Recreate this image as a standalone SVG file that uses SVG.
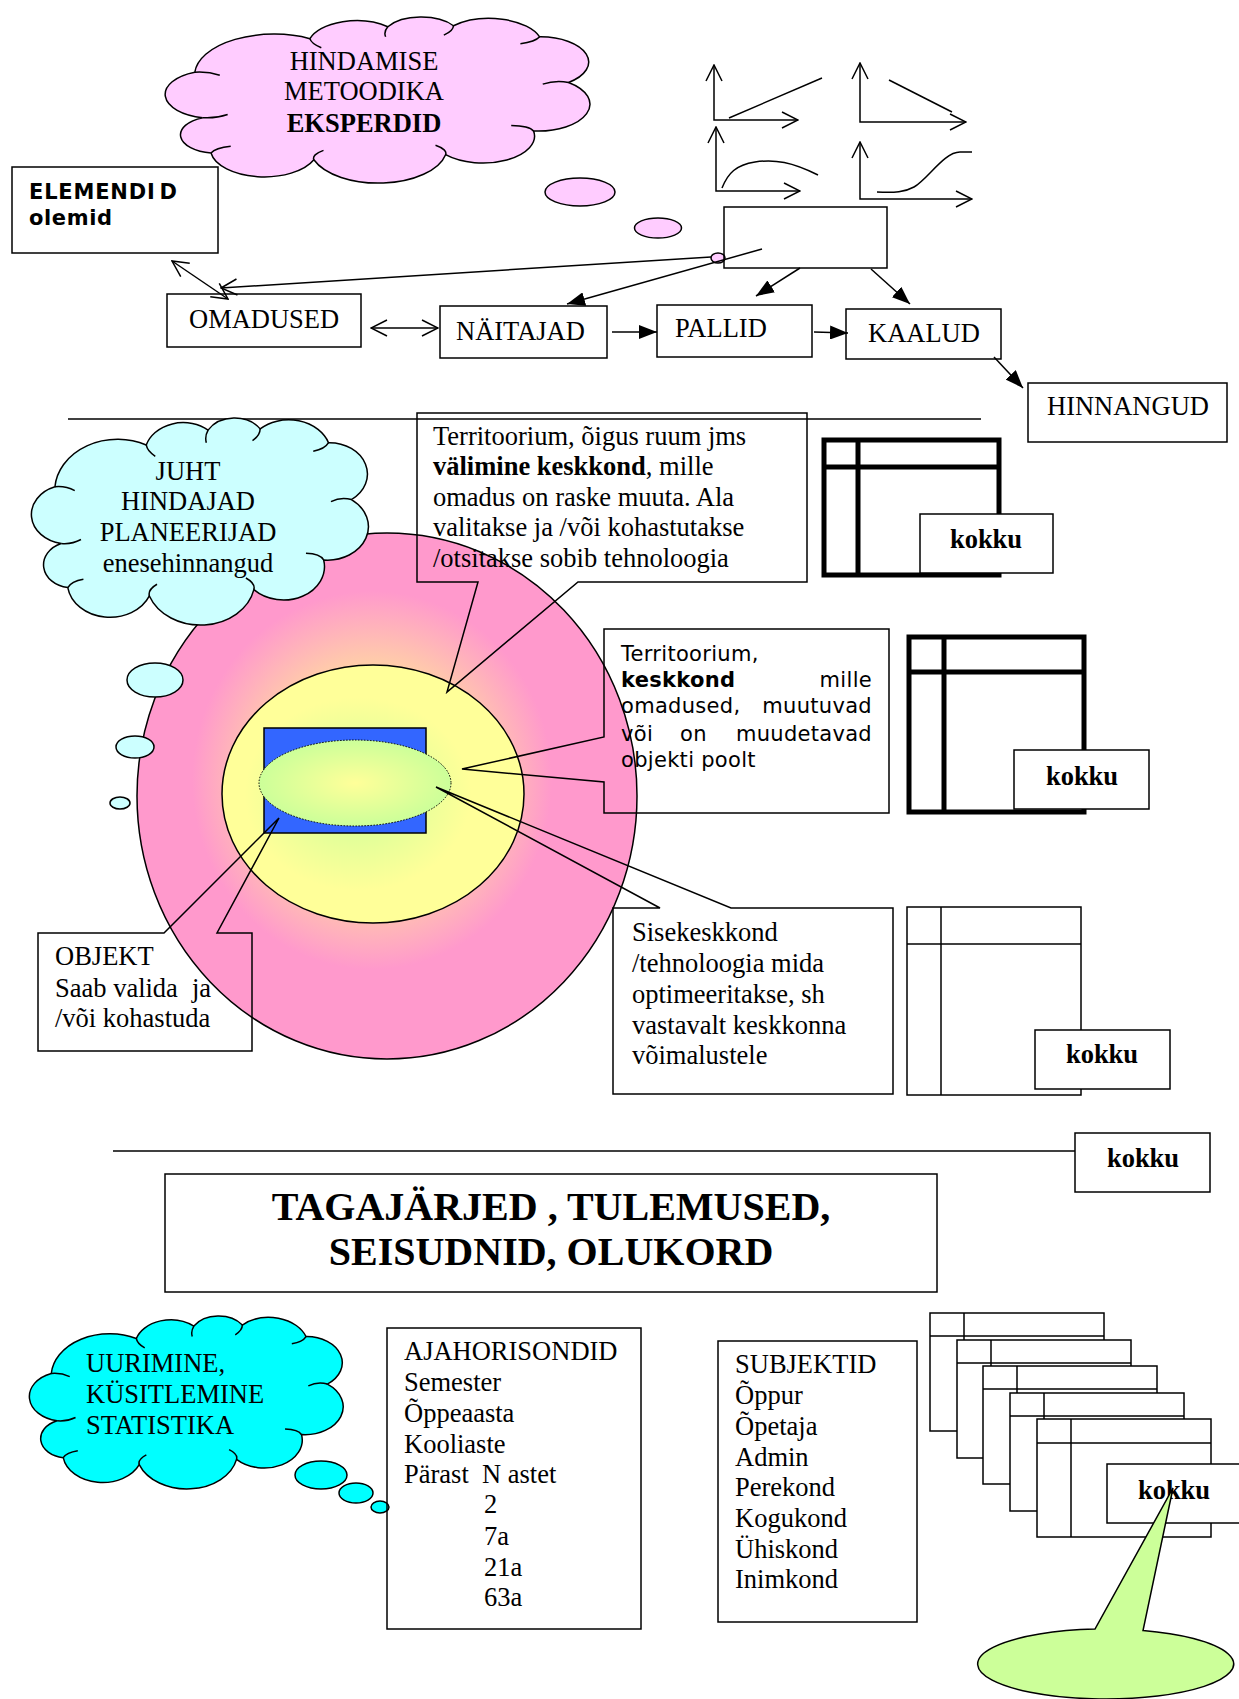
<svg xmlns="http://www.w3.org/2000/svg" width="1239" height="1699" viewBox="0 0 1239 1699">
<style>
.s{font-family:"Liberation Serif","Times New Roman",serif;font-size:26.5px;fill:#000}
.b{font-weight:bold}
.v{font-family:"DejaVu Sans",Verdana,sans-serif;font-size:21px;letter-spacing:0.3px;fill:#000}
.box{fill:none;stroke:#000;stroke-width:1.5}
.wbox{fill:#fff;stroke:#000;stroke-width:1.5}
.ln{fill:none;stroke:#000;stroke-width:1.5}
.thick{fill:none;stroke:#000;stroke-width:5}
.pk{fill:#FFCCFF;stroke:#000;stroke-width:1.5}
.cy1{fill:#CCFFFF;stroke:#000;stroke-width:1.5}
.cy2{fill:#00FFFF;stroke:#000;stroke-width:1.5}
.ci{fill:none;stroke:#000;stroke-width:1.5}
</style>
<defs>
<path id="cloud" vector-effect="non-scaling-stroke" d="M9.4,31.9 A18.1,24.6 0 0 1 35.7,11.9 A11.1,15.1 0 0 1 53.5,4.8 A9,12.2 0 0 1 68.5,4.2 A12.2,16.6 0 0 1 88.2,10.8 A11,15 0 0 1 94.8,38 A11.8,16 0 0 1 86.8,66.9 A11.8,16 0 0 1 66.7,81.1 A15.7,21.3 0 0 1 36.6,84.1 A12.3,16.7 0 0 1 13.1,80.1 A8.1,11 0 0 1 11.2,59 A10.4,14.1 0 0 1 9.4,31.9 Z"/>
<path id="cloud-inner" vector-effect="non-scaling-stroke" d="M9.4,31.9 q3,-0.5 5.7,1.8 M35.7,11.9 q0.3,3 2.6,5.4 M53.5,4.8 q-1,3 -0.5,6 M68.5,4.2 q0,3 -2.2,5.6 M88.2,10.8 q-1,3 -4.4,4.1 M94.8,38 q-3,-1.5 -5.9,1 M86.8,66.9 q-1,-3 -5.1,-3.2 M66.7,81.1 q0.5,-3 -2.3,-5.6 M36.6,84.1 q-0.5,-3 2.2,-5.6 M13.1,80.1 q1,-3 4.5,-4 M11.2,59 q3,0.5 5.7,-1.9"/>
<marker id="ao" viewBox="0 0 18 18" refX="17" refY="9" markerWidth="18" markerHeight="18" markerUnits="userSpaceOnUse" orient="auto-start-reverse"><path d="M1,1 L17,9 L1,17" fill="none" stroke="#000" stroke-width="1.5"/></marker>
<marker id="af" viewBox="0 0 18 14" refX="18" refY="7" markerWidth="18" markerHeight="14" markerUnits="userSpaceOnUse" orient="auto"><path d="M0,0 L18,7 L0,14 Z" fill="#000"/></marker>
<radialGradient id="gPink" cx="0.47" cy="0.47" r="0.5"><stop offset="0" stop-color="#FFFF99"/><stop offset="0.45" stop-color="#FFCCAA"/><stop offset="0.72" stop-color="#FF99CC"/><stop offset="1" stop-color="#FF99CC"/></radialGradient>
<radialGradient id="gYel" cx="0.45" cy="0.5" r="0.5"><stop offset="0" stop-color="#CCFF99"/><stop offset="0.75" stop-color="#FFFF99"/></radialGradient>
<radialGradient id="gGrn" cx="0.5" cy="0.5" r="0.5"><stop offset="0" stop-color="#FFFF99"/><stop offset="1" stop-color="#CCFF99"/></radialGradient>
</defs>
<rect width="1239" height="1699" fill="#fff"/>

<!-- top section -->
<g id="cloud-metoodika">
<g transform="translate(153.7,18.7) scale(4.376,1.677)"><use href="#cloud" class="pk"/><use href="#cloud-inner" class="ci"/></g>
<text class="s" x="364" y="70" text-anchor="middle">HINDAMISE</text>
<text class="s" x="364" y="100" text-anchor="middle">METOODIKA</text>
<text class="s b" x="364" y="132" text-anchor="middle">EKSPERDID</text>
</g>
<g id="bubbles-metoodika">
<ellipse class="pk" cx="580" cy="192" rx="35" ry="14"/>
<ellipse class="pk" cx="658" cy="228" rx="23.5" ry="10"/>
<ellipse class="pk" cx="718" cy="258" rx="7" ry="5"/>
</g>
<g id="node-elemendid">
<rect class="box" x="12" y="167" width="206" height="86"/>
<text class="v b" x="29" y="199" style="letter-spacing:0.8px">ELEMENDI<tspan dx="4">D</tspan></text>
<text class="v b" x="29" y="225" style="letter-spacing:0.6px">olemid</text>
</g>
<g id="node-omadused"><rect class="box" x="167" y="294" width="194" height="53"/><text class="s" x="189" y="328">OMADUSED</text></g>
<g id="node-naitajad"><rect class="box" x="440" y="306" width="167" height="52"/><text class="s" x="456" y="340">NÄITAJAD</text></g>
<g id="node-pallid"><rect class="box" x="657" y="305" width="155" height="52"/><text class="s" x="675" y="337">PALLID</text></g>
<g id="node-kaalud"><rect class="box" x="846" y="309" width="155" height="50"/><text class="s" x="868" y="342">KAALUD</text></g>
<g id="node-hinnangud"><rect class="box" x="1028" y="383" width="199" height="59"/><text class="s" x="1047" y="415">HINNANGUD</text></g>
<g id="node-empty"><rect class="box" x="724" y="207" width="163" height="61"/></g>
<g id="graphs">
<polyline class="ln" points="714,65 714,120 798,120" marker-start="url(#ao)" marker-end="url(#ao)"/>
<line class="ln" x1="729" y1="118" x2="822" y2="78"/>
<polyline class="ln" points="860,63 860,122 966,122" marker-start="url(#ao)" marker-end="url(#ao)"/>
<line class="ln" x1="889" y1="80" x2="952" y2="112"/>
<polyline class="ln" points="716,127 716,191 800,191" marker-start="url(#ao)" marker-end="url(#ao)"/>
<path class="ln" d="M722,188 C728,173 736,165 755,162 C775,159 792,162 818,175"/>
<polyline class="ln" points="860,142 860,199 972,199" marker-start="url(#ao)" marker-end="url(#ao)"/>
<path class="ln" d="M877,192 C895,193 905,192 914,187 C928,179 944,152 960,152 L972,152"/>
</g>

<g id="separators">
<line class="ln" x1="68" y1="419" x2="981" y2="419"/>
<line class="ln" x1="113" y1="1151" x2="1075" y2="1151"/>
</g>

<!-- middle section -->
<g id="environment-diagram">
<ellipse cx="387" cy="796" rx="250" ry="263" fill="url(#gPink)" stroke="#000" stroke-width="1.5"/>
<ellipse cx="373" cy="794" rx="151" ry="129" fill="url(#gYel)" stroke="#000" stroke-width="1.5"/>
<rect x="264" y="728" width="162" height="105" fill="#3366FF" stroke="#000" stroke-width="1.5"/>
<ellipse cx="355" cy="783" rx="96" ry="43" fill="url(#gGrn)" stroke="#000" stroke-width="1" stroke-dasharray="1.5 1.5"/>
</g>
<g id="cloud-juht">
<g transform="translate(22.3,420.1) scale(3.472,2.091)"><use href="#cloud" class="cy1"/><use href="#cloud-inner" class="ci"/></g>
<text class="s" x="188" y="480" text-anchor="middle">JUHT</text>
<text class="s" x="188" y="510" text-anchor="middle">HINDAJAD</text>
<text class="s" x="188" y="541" text-anchor="middle">PLANEERIJAD</text>
<text class="s" x="188" y="572" text-anchor="middle">enesehinnangud</text>
</g>
<g id="bubbles-juht">
<ellipse class="cy1" cx="155" cy="680" rx="28" ry="17"/>
<ellipse class="cy1" cx="135" cy="747" rx="19" ry="11"/>
<ellipse class="cy1" cx="120" cy="803" rx="10" ry="6"/>
</g>
<g id="callout-valimine">
<path class="box" d="M417,413 H807 V582 H578 L447,692 L478,582 H417 Z"/>
<text class="s" x="433" y="445">Territoorium, õigus ruum jms</text>
<text class="s" x="433" y="475"><tspan class="b">välimine keskkond</tspan>, mille</text>
<text class="s" x="433" y="506">omadus on raske muuta. Ala</text>
<text class="s" x="433" y="536">valitakse ja /või kohastutakse</text>
<text class="s" x="433" y="567">/otsitakse sobib tehnoloogia</text>
</g>
<g id="callout-keskkond">
<path class="box" d="M604,629 H889 V813 H604 V782 L462,769 L604,737 Z"/>
<text class="v" x="621" y="661">Territoorium,</text>
<text class="v b" x="621" y="687">keskkond</text>
<text class="v" x="872" y="687" text-anchor="end">mille</text>
<text class="v" x="621" y="713">omadused,</text>
<text class="v" x="872" y="713" text-anchor="end">muutuvad</text>
<text class="v" x="621" y="741">või</text>
<text class="v" x="680" y="741">on</text>
<text class="v" x="872" y="741" text-anchor="end">muudetavad</text>
<text class="v" x="621" y="767">objekti poolt</text>
</g>
<g id="callout-sisekeskkond">
<path class="box" d="M613,908 H660 L436,787 L731,908 H893 V1094 H613 Z"/>
<text class="s" x="632" y="941">Sisekeskkond</text>
<text class="s" x="632" y="972">/tehnoloogia mida</text>
<text class="s" x="632" y="1003">optimeeritakse, sh</text>
<text class="s" x="632" y="1034">vastavalt keskkonna</text>
<text class="s" x="632" y="1064">võimalustele</text>
</g>
<g id="callout-objekt">
<path class="box" d="M38,933 H164 L279,818 L217,933 H252 V1051 H38 Z"/>
<text class="s" x="55" y="965">OBJEKT</text>
<text class="s" x="55" y="997">Saab valida<tspan x="192">ja</tspan></text>
<text class="s" x="55" y="1027">/või kohastuda</text>
</g>
<g id="table-1">
<rect class="thick" x="824" y="440" width="175" height="135"/>
<line class="thick" x1="858" y1="440" x2="858" y2="575"/>
<line class="thick" x1="824" y1="467" x2="999" y2="467"/>
<rect class="wbox" x="920" y="514" width="133" height="59"/>
<text class="s b" x="986" y="548" text-anchor="middle">kokku</text>
</g>
<g id="table-2">
<rect class="thick" x="909" y="637" width="175" height="175"/>
<line class="thick" x1="944" y1="637" x2="944" y2="812"/>
<line class="thick" x1="909" y1="672" x2="1084" y2="672"/>
<rect class="wbox" x="1014" y="750" width="135" height="59"/>
<text class="s b" x="1082" y="785" text-anchor="middle">kokku</text>
</g>
<g id="table-3">
<rect class="box" x="907" y="907" width="174" height="188"/>
<line class="ln" x1="941" y1="907" x2="941" y2="1095"/>
<line class="ln" x1="907" y1="944" x2="1081" y2="944"/>
<rect class="wbox" x="1035" y="1030" width="135" height="59"/>
<text class="s b" x="1102" y="1063" text-anchor="middle">kokku</text>
</g>
<g id="kokku-4">
<rect class="wbox" x="1075" y="1133" width="135" height="59"/>
<text class="s b" x="1143" y="1167" text-anchor="middle">kokku</text>
</g>

<!-- bottom section -->
<g id="node-tagajarjed">
<rect class="box" x="165" y="1174" width="772" height="118"/>
<text class="s b" x="551" y="1220" text-anchor="middle" style="font-size:40px">TAGAJÄRJED , TULEMUSED,</text>
<text class="s b" x="551" y="1265" text-anchor="middle" style="font-size:40px">SEISUDNID, OLUKORD</text>
</g>
<g id="cloud-uurimine">
<g transform="translate(20.9,1317.7) scale(3.233,1.747)"><use href="#cloud" class="cy2"/><use href="#cloud-inner" class="ci"/></g>
<text class="s" x="86" y="1372">UURIMINE,</text>
<text class="s" x="86" y="1403">KÜSITLEMINE</text>
<text class="s" x="86" y="1434">STATISTIKA</text>
</g>
<g id="bubbles-uurimine">
<ellipse class="cy2" cx="321" cy="1475" rx="26" ry="14"/>
<ellipse class="cy2" cx="356" cy="1493" rx="17" ry="10"/>
<ellipse class="cy2" cx="380" cy="1507" rx="9" ry="6"/>
</g>
<g id="node-ajahorisondid">
<rect class="box" x="387" y="1328" width="254" height="301"/>
<text class="s" x="404" y="1360">AJAHORISONDID</text>
<text class="s" x="404" y="1391">Semester</text>
<text class="s" x="404" y="1422">Õppeaasta</text>
<text class="s" x="404" y="1453">Kooliaste</text>
<text class="s" x="404" y="1483">Pärast<tspan x="482">N astet</tspan></text>
<text class="s" x="484" y="1513">2</text>
<text class="s" x="484" y="1545">7a</text>
<text class="s" x="484" y="1576">21a</text>
<text class="s" x="484" y="1606">63a</text>
</g>
<g id="node-subjektid">
<rect class="box" x="718" y="1341" width="199" height="281"/>
<text class="s" x="735" y="1373">SUBJEKTID</text>
<text class="s" x="735" y="1404">Õppur</text>
<text class="s" x="735" y="1435">Õpetaja</text>
<text class="s" x="735" y="1466">Admin</text>
<text class="s" x="735" y="1496">Perekond</text>
<text class="s" x="735" y="1527">Kogukond</text>
<text class="s" x="735" y="1558">Ühiskond</text>
<text class="s" x="735" y="1588">Inimkond</text>
</g>
<g id="sheets">
<g><rect class="wbox" x="930" y="1313" width="174" height="118"/><path class="ln" d="M930,1336 H1104 M964,1313 V1431"/></g>
<g><rect class="wbox" x="957" y="1340" width="174" height="118"/><path class="ln" d="M957,1363 H1131 M991,1340 V1458"/></g>
<g><rect class="wbox" x="983" y="1366" width="174" height="118"/><path class="ln" d="M983,1389 H1157 M1017,1366 V1484"/></g>
<g><rect class="wbox" x="1010" y="1393" width="174" height="118"/><path class="ln" d="M1010,1416 H1184 M1044,1393 V1511"/></g>
<g><rect class="wbox" x="1037" y="1419" width="174" height="118"/><path class="ln" d="M1037,1443 H1211 M1071,1419 V1537"/></g>
</g>
<g id="kokku-5">
<rect class="wbox" x="1107" y="1464" width="140" height="59"/>
<text class="s b" x="1174" y="1499" text-anchor="middle">kokku</text>
</g>
<g id="speech-green">
<path d="M1143,1630.5 A128,35 0 1 1 1095,1629.1 L1173,1488 Z" fill="#CCFF99" stroke="#000" stroke-width="1.5"/>
</g>

<g id="connectors">
<line class="ln" x1="172" y1="261" x2="228" y2="299" marker-start="url(#ao)" marker-end="url(#ao)"/>
<line class="ln" x1="711" y1="257" x2="221" y2="288" marker-end="url(#ao)"/>
<line class="ln" x1="371" y1="328" x2="438" y2="328" marker-start="url(#ao)" marker-end="url(#ao)"/>
<line class="ln" x1="762" y1="249" x2="567" y2="304" marker-end="url(#af)"/>
<line class="ln" x1="800" y1="268" x2="756" y2="296" marker-end="url(#af)"/>
<line class="ln" x1="871" y1="269" x2="910" y2="304" marker-end="url(#af)"/>
<line class="ln" x1="612" y1="332" x2="657" y2="332" marker-end="url(#af)"/>
<line class="ln" x1="814" y1="332" x2="848" y2="333" marker-end="url(#af)"/>
<line class="ln" x1="994" y1="357" x2="1023" y2="388" marker-end="url(#af)"/>
</g>
</svg>
